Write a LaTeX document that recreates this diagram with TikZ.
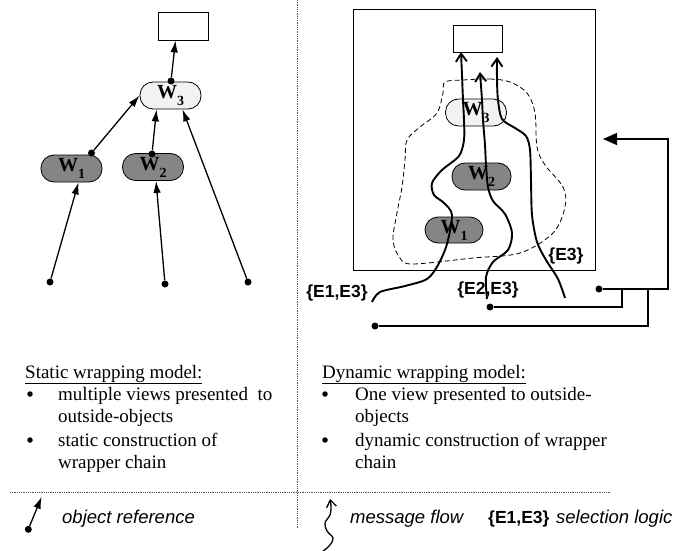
\documentclass[tikz,border=0pt]{standalone}
\usepackage{fontspec}
\setmainfont{Liberation Serif}
\setsansfont{Liberation Sans}
\usetikzlibrary{arrows.meta,calc}
\definecolor{wlight}{HTML}{F2F2F2}
\definecolor{wdark}{HTML}{858585}
\definecolor{dotgray}{HTML}{555555}
\newcommand{\wlab}[1]{\textbf{W}\raisebox{-0.35em}{\fontsize{14}{14}\selectfont\textbf{#1}}}
\begin{document}
\begin{tikzpicture}[x=1pt,y=-1pt,
  wnode/.style={draw=black,line width=0.8pt,rounded corners=13pt,minimum width=61pt,minimum height=27pt,inner sep=0pt,font=\fontsize{20}{20}\selectfont},
  wl/.style={wnode,fill=wlight},
  wd/.style={wnode,fill=wdark},
  target/.style={draw=black,line width=0.8pt,minimum width=50pt,minimum height=28pt,inner sep=0pt},
  dot/.style={circle,fill=black,inner sep=0pt,minimum size=7pt},
  bul/.style={circle,fill=black,inner sep=0pt,minimum size=5.5pt},
  ref/.style={line width=1.3pt,-{Latex[length=12pt,width=7.5pt]}},
  flow/.style={line width=1.9pt,-{Straight Barb[length=8pt,width=11pt]}},
  conn/.style={line width=1.3pt},
  sep/.style={dotgray,line width=0.9pt,dash pattern=on 0.9pt off 0.9pt},
  txt/.style={anchor=base west,inner sep=0pt,font=\fontsize{19}{22}\selectfont},
  lab/.style={inner sep=0pt,font=\sffamily\bfseries\fontsize{17.5}{20}\selectfont},
  leg/.style={anchor=base west,inner sep=0pt,font=\sffamily\itshape\fontsize{18.5}{22}\selectfont}
]
\useasboundingbox (0,0) rectangle (683,551);

% separators
\draw[sep] (297,0) -- (297,528);
\draw[sep] (10,492) -- (610,492);

% ---------- left: static model ----------
\node[target] (rectL) at (183.5,26) {};
\node[wl] (W3L) at (170.5,95.5) {\wlab{3}};
\node[wd] (W1L) at (71.5,168.5) {\wlab{1}};
\node[wd] (W2L) at (153,167) {\wlab{2}};

\node[dot] (d3) at (171,81) {};
\node[dot] (d1) at (91.5,153) {};
\node[dot] (d2) at (152,154) {};
\node[dot] (b1) at (50,282) {};
\node[dot] (b2) at (165,284) {};
\node[dot] (b3) at (248,282) {};

\draw[ref] (d3) -- ([xshift=-8pt]rectL.south);
\draw[ref] (d1) -- (W3L.west);
\draw[ref] (d2) -- ([xshift=-14pt]W3L.south);
\draw[ref] (b1) -- ([xshift=7pt]W1L.south);
\draw[ref] (b2) -- ([xshift=3pt]W2L.south);
\draw[ref] (b3) -- ([xshift=12pt]W3L.south);

% ---------- right: dynamic model ----------
\node[draw=black,line width=1pt,minimum width=242pt,minimum height=260pt,inner sep=0pt] (frame) at (474,140) {};
\node[target,minimum width=49pt,minimum height=27pt] (rectR) at (477.5,38.5) {};

\draw[line width=0.8pt,dash pattern=on 5pt off 3pt] plot[smooth cycle,tension=0.55] coordinates {
 (463,80) (490,79) (510,82) (527,93) (535,113) (537,147) (545,165) (563,187) (565,207) (553,233) (520,253) (473,258) (413,264) (400,258) (393,240) (397,213) (402,187) (405,160) (407,140) (420,127) (437,113) (443,93) (445,82)};

\node[wl] (W3R) at (476,112.5) {\wlab{3}};
\node[wd,minimum width=59pt] (W2R) at (481.5,176.5) {\wlab{2}};
\node[wd,minimum width=58pt,minimum height=26pt] (W1R) at (454,230) {\wlab{1}};

% message flows
\draw[flow] plot[smooth,tension=0.5] coordinates {
 (372,302) (380,292) (405,286) (427,279) (438,265) (447,244) (452,215) (444,203) (434,195) (432,183) (442,170) (459,156) (464,140) (464,120) (463,100) (462,75) (461,52)};
\draw[flow] plot[smooth,tension=0.5] coordinates {
 (487,299) (486,277) (493,262) (508,250) (512,233) (505,214) (493,201) (488,187) (486,165) (485,145) (483,120) (482,100) (480,72)};
\draw[flow] plot[smooth,tension=0.5] coordinates {
 (565,298) (558,279) (546,260) (537,242) (532,215) (531,180) (530,150) (526,136) (515,128) (502,119) (498,100) (497,80) (497,57)};

\node[lab] (selA) at (337,293) {\{E1,E3\}};
\node[lab] (selB) at (488,290) {\{E2,E3\}};
\node[lab] (selC) at (566,256) {\{E3\}};

% outside connectors
\node[dot] (p1) at (599,289) {};
\node[dot] (p2) at (490,307) {};
\node[dot] (p3) at (375,326) {};
\coordinate (cR) at (668,200);
\coordinate (tipR) at (603,139);
\coordinate (j2) at (622,289);
\coordinate (j3) at (648,289);
\draw[conn,-{Triangle[length=14pt,width=12pt]}] (p1) -| (cR) |- (tipR);
\draw[conn] (p2) -| (j2);
\draw[conn] (p3) -| (j3);

% ---------- texts ----------
\node[txt] (t1) at (25,378) {\underline{Static wrapping model:}};
\node[bul] (bl1) at (30,394) {};
\node[txt] (t2) at (58,400) {multiple views presented\ \ to};
\node[txt] (t3) at (58,422) {outside-objects};
\node[bul] (bl2) at (30,440) {};
\node[txt] (t4) at (58,446) {static construction of};
\node[txt] (t5) at (58,468) {wrapper chain};

\node[txt] (r1) at (322,378) {\underline{Dynamic wrapping model:}};
\node[bul] (br1) at (325,394) {};
\node[txt] (r2) at (355,400) {One view presented to outside-};
\node[txt] (r3) at (355,422) {objects};
\node[bul] (br2) at (325,440) {};
\node[txt] (r4) at (355,446) {dynamic construction of wrapper};
\node[txt] (r5) at (355,468) {chain};

% ---------- legend ----------
\node[dot] (lgdot) at (28.3,529.3) {};
\coordinate (lgtip) at (41.7,496.7);
\draw[ref] (lgdot) -- (lgtip);
\node[leg] (lg1) at (62,523) {object reference};

\draw[line width=1.3pt,-{Straight Barb[length=7pt,width=10pt]}] plot[smooth,tension=0.6] coordinates {
 (322,552) (330,545) (333,538) (327,531) (325,523) (330,515) (331,507) (330,499)};
\node[leg] (lg2) at (350,523) {message flow};
\node[lab,anchor=base west] (lg3) at (488,523) {\{E1,E3\}};
\node[leg] (lg4) at (556,523) {selection logic};
\end{tikzpicture}
\end{document}
